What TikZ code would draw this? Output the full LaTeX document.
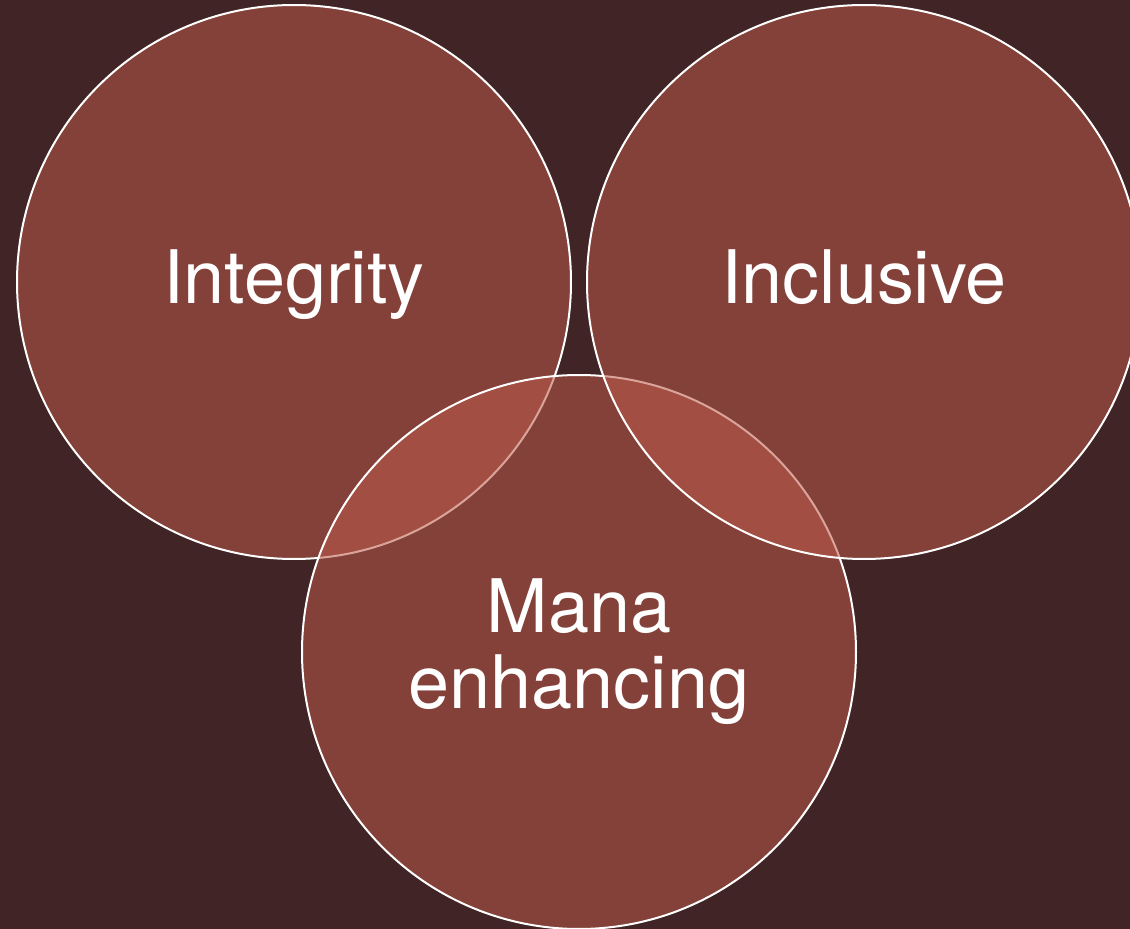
\documentclass[tikz,border=0pt]{standalone}
\usepackage{fontspec}
\setmainfont{TeX Gyre Heros}
\definecolor{bgbrown}{HTML}{402426}
\definecolor{ringred}{HTML}{BC5A4A}
\begin{document}
\begin{tikzpicture}[x=0.1mm, y=-0.1mm,
    ring/.style={circle, draw=white, line width=0.2mm, fill=ringred, fill opacity=0.55, minimum size=55.4mm, inner sep=0pt},
    word/.style={text=white, font=\fontsize{21}{21.6}\selectfont, align=center, inner sep=0pt}]
    \fill [bgbrown] (0,0) rectangle (1130,929);
    \clip (0,0) rectangle (1130,929);

    \node [ring] (integrity) at (294,282) {};
    \node [ring] (mana) at (579,652) {};
    \node [ring] (inclusive) at (864,282) {};

    \node [word, anchor=base] (integrity text) at ([yshift=-2.2mm]integrity.center) {Integrity};
    \node [word, anchor=base] (inclusive text) at ([yshift=-2.2mm]inclusive.center) {Inclusive};
    \node [word] (mana text) at (mana.center) {Mana\\enhancing};
\end{tikzpicture}
\end{document}
